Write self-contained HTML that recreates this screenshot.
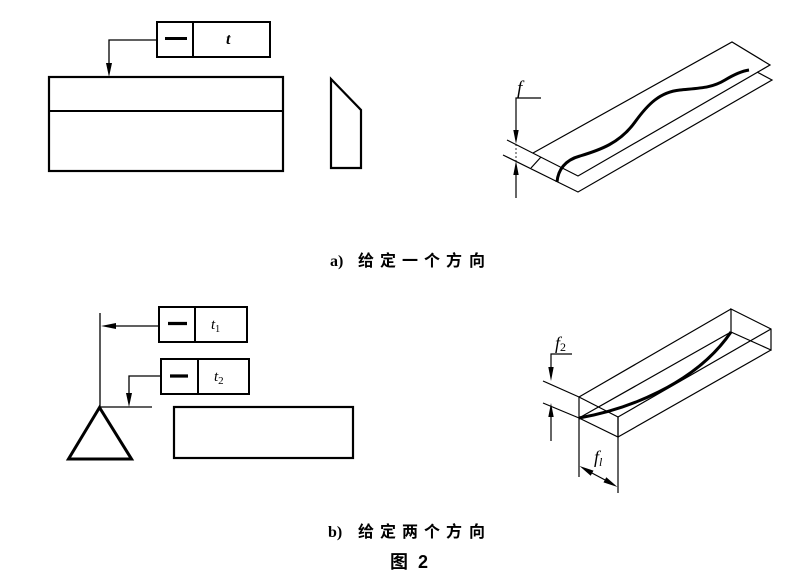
<!DOCTYPE html>
<html><head><meta charset="utf-8"><style>
html,body{margin:0;padding:0;background:#fff;}
svg{display:block;}
.t{font-family:"Liberation Serif",serif;font-style:italic;}
.c{font-family:"Liberation Sans","Noto Sans CJK SC",sans-serif;font-weight:bold;}
.s{font-family:"Liberation Serif",serif;font-weight:bold;}
</style></head><body>
<svg width="811" height="584" viewBox="0 0 811 584" xmlns="http://www.w3.org/2000/svg">
<g fill="none" stroke="#000" stroke-linejoin="miter">
<!-- ===== a) left ===== -->
<rect x="157" y="22" width="113" height="35" stroke-width="2"/>
<line x1="193" y1="22" x2="193" y2="57" stroke-width="2"/>
<line x1="165" y1="38.5" x2="187" y2="38.5" stroke-width="3"/>
<polyline points="157,40 109,40 109,66" stroke-width="1.3"/>
<rect x="49" y="77" width="234" height="94" stroke-width="2.2"/>
<line x1="49" y1="111" x2="283" y2="111" stroke-width="2"/>
<polygon points="331,79 361,110 361,168 331,168" stroke-width="2.2"/>

<!-- ===== a) right ===== -->
<polyline points="507,140 578,176 770,65 732,42 533,153" stroke-width="1.2"/>
<polyline points="503,155 578,192 772,80 757,72" stroke-width="1.2"/>
<line x1="531" y1="168" x2="541" y2="157" stroke-width="1.2"/>
<path d="M557,182 C558,170 565,160 580,156 C600,150 620,143 635,122 C648,104 660,92 680,90 C700,88 712,88 725,80 C735,74 742,71 749,70" stroke-width="3"/>
<polyline points="541,98 516,98 516,130" stroke-width="1.2"/>
<line x1="516" y1="175" x2="516" y2="198" stroke-width="1.2"/>
<line x1="516" y1="144" x2="516" y2="161" stroke-width="0.8" stroke-dasharray="2,2"/>

<!-- ===== b) left ===== -->
<rect x="159" y="307" width="88" height="35" stroke-width="2"/>
<line x1="195" y1="307" x2="195" y2="342" stroke-width="2"/>
<line x1="168" y1="323.5" x2="187" y2="323.5" stroke-width="3.2"/>
<rect x="161" y="359" width="88" height="35" stroke-width="2"/>
<line x1="198" y1="359" x2="198" y2="394" stroke-width="2"/>
<line x1="170" y1="376" x2="188" y2="376" stroke-width="3.2"/>
<line x1="100" y1="313" x2="100" y2="407" stroke-width="1.3"/>
<line x1="159" y1="326" x2="114" y2="326" stroke-width="1.3"/>
<polyline points="161,376 129,376 129,395" stroke-width="1.3"/>
<line x1="100" y1="407" x2="152" y2="407" stroke-width="1.3"/>
<polygon points="99.5,407.5 68.5,459 131.5,459" stroke-width="3"/>
<rect x="174" y="407" width="179" height="51" stroke-width="2.2"/>

<!-- ===== b) right box ===== -->
<g stroke-width="1.2">
<polyline points="543,381 579,397 618,417 618,437 579,418 543,403"/>
<line x1="579" y1="397" x2="579" y2="477"/>
<line x1="618" y1="417" x2="618" y2="493"/>
<line x1="579" y1="397" x2="731" y2="309"/>
<line x1="618" y1="417" x2="771" y2="329"/>
<line x1="618" y1="437" x2="771" y2="350"/>
<line x1="579" y1="418" x2="731" y2="332"/>
<polygon points="731,309 771,329 771,350 731,332"/>
<polyline points="572,354 551,354 551,368"/>
<line x1="551" y1="417" x2="551" y2="441"/>
<line x1="590" y1="472" x2="607" y2="481"/>
</g>
<path d="M579,418 C625,410 695,385 731,332" stroke-width="3"/>
</g>

<!-- arrowheads -->
<g fill="#000" stroke="none">
<polygon points="109,77 106,63 112,63"/>
<polygon points="516,144 513.3,130 518.7,130"/>
<polygon points="516,161 513.3,175 518.7,175"/>
<polygon points="101,326 116,323 116,329"/>
<polygon points="129,407 126,393 132,393"/>
<polygon points="551,381 548.3,367 553.7,367"/>
<polygon points="551,403 548.3,417 553.7,417"/>
<polygon points="579.5,466 593.5,470.6 590.7,475.8"/>
<polygon points="617.5,487 603.5,482.4 606.3,477.2"/>
</g>

<!-- labels -->
<text class="t" x="226" y="44" font-size="16" font-weight="bold">t</text>
<text class="t" x="517" y="94" font-size="19">f</text>
<text class="t" x="211" y="329" font-size="15">t<tspan font-size="10" dy="3" font-style="normal">1</tspan></text>
<text class="t" x="214" y="381" font-size="15">t<tspan font-size="11" dy="3" font-style="normal">2</tspan></text>
<text class="t" x="555" y="349" font-size="18">f<tspan font-size="12" dy="2" font-style="normal">2</tspan></text>
<text class="t" x="594" y="463" font-size="18">f<tspan font-size="12" dy="3">l</tspan></text>

<text class="s" x="330" y="266" font-size="16">a)</text>
<text class="c" y="266" font-size="16"><tspan x="358">给</tspan><tspan x="380">定</tspan><tspan x="402">一</tspan><tspan x="424">个</tspan><tspan x="446">方</tspan><tspan x="469">向</tspan></text>
<text class="s" x="328" y="537" font-size="16">b)</text>
<text class="c" y="537" font-size="16"><tspan x="358">给</tspan><tspan x="380">定</tspan><tspan x="402">两</tspan><tspan x="424">个</tspan><tspan x="446">方</tspan><tspan x="469">向</tspan></text>
<text class="c" y="568" font-size="18"><tspan x="390">图</tspan><tspan x="418">2</tspan></text>
</svg>
</body></html>
